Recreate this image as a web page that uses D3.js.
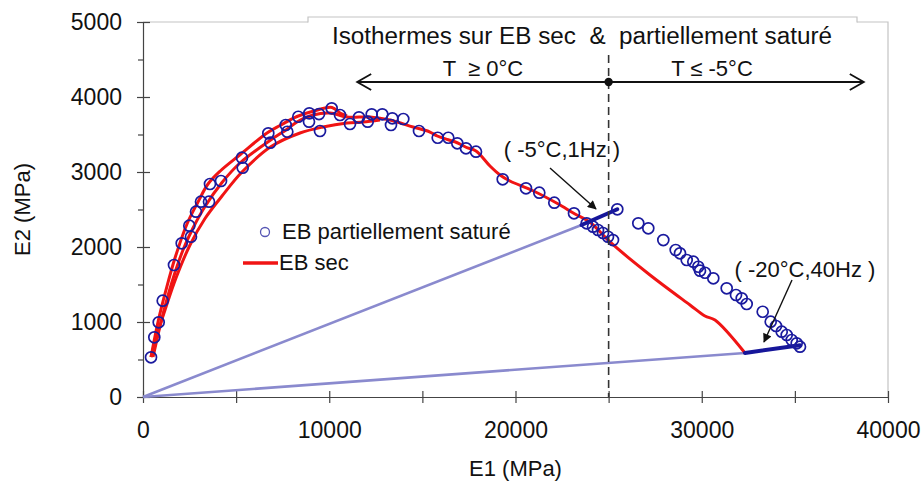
<!DOCTYPE html>
<html lang="fr">
<head>
<meta charset="UTF-8">
<title>E2 vs E1 - EB sec et partiellement saturé</title>
<script src="https://cdnjs.cloudflare.com/ajax/libs/d3/7.8.5/d3.min.js"></script>
<style>
  body { margin: 0; background: #fff; }
  svg { font-family: "Liberation Sans", Arial, sans-serif; }
  .axis path { stroke: #444; stroke-width: 1.2; }
  .axis line { stroke: #444; stroke-width: 1.2; }
  .axis text { font-size: 23px; fill: #111; }
</style>
</head>
<body>
<div id="chart"></div>
<script>
// --- données (E1, E2 en MPa) ---
const xTicks = [0, 10000, 20000, 30000, 40000];
const yTicks = [0, 1000, 2000, 3000, 4000, 5000];

// EB sec : isothermes (courbes rouges)
const secIso1 = [[430,533],[805,1000],[1235,1427],[1718,1853],[2362,2307],[2953,2600],[3490,2840],
  [4134,3010],[5208,3230],[6658,3520],[7356,3620],[8268,3740],[9128,3810],[10148,3860],[10577,3787],[10953,3747]];
const secIso2 = [[538,533],[1020,1053],[1557,1533],[2148,1960],[2685,2253],[3329,2540],[4242,2860],
  [5208,3120],[6819,3420],[7732,3570],[8268,3667],[9128,3760],[10040,3787],[10953,3733],[12188,3733],
  [13262,3693],[14497,3600],[15409,3533],[15800,3480],[16390,3430],[16870,3390],[17340,3330],[17879,3280],
  [18630,3080],[19168,2960],[19700,2880],[20940,2750],[22250,2580],[23195,2440],[24000,2330],[25074,2067],
  [27221,1627],[29369,1227],[30174,1080],[30711,1027],[32322,587]];
const secIso3 = [[430,533],[752,827],[1181,1160],[1772,1587],[2523,2027],[3329,2380],[4242,2680],
  [5315,3000],[6819,3330],[8430,3520],[9664,3600],[10953,3653],[11812,3667],[12725,3693]];

// EB partiellement saturé (cercles)
const satE1 = [430,607,843,1058,1664,2078,2486,2577,2846,3114,3544,3597,4188,5315,5353,6727,6835,7662,7748,
  8338,8929,8913,9450,9503,10131,10577,11114,11597,12064,12279,12848,13315,13385,13976,14819,15823,16392,
  16875,17342,17879,19313,20564,21278,22083,23141,23823,24161,24430,24698,24966,25235,25466,26593,27130,
  27936,28601,28832,29192,29546,29815,29906,30174,30620,31339,31839,32145,32413,33272,33702,33987,34293,
  34561,34829,35097,35275];
const satE2 = [529,796,996,1284,1760,2049,2284,2137,2471,2604,2604,2840,2880,3191,3057,3516,3391,3627,3537,
  3737,3783,3671,3773,3547,3849,3760,3640,3729,3671,3769,3769,3627,3716,3707,3547,3457,3457,
  3383,3316,3271,2903,2783,2724,2591,2449,2316,2271,2227,2187,2137,2093,2503,2316,2249,
  2093,1960,1916,1827,1804,1737,1684,1657,1583,1449,1360,1316,1240,1137,1004,947,871,
  827,760,716,671];

// segments (-5°C,1Hz) et (-20°C,40Hz)
const seg5C = [[23544,2293],[25466,2503]];
const seg20C = [[32322,587],[35275,690]];
const rayEnds = [[23544,2293],[32322,587]];

const W = 924, H = 485;
const x = d3.scaleLinear().domain([0, 40000]).range([143, 888]);
const y = d3.scaleLinear().domain([0, 5000]).range([397, 22]);

const svg = d3.select("#chart").append("svg").attr("width", W).attr("height", H);

const defs = svg.append("defs");
defs.append("marker").attr("id", "head").attr("viewBox", "0 0 10 10")
  .attr("refX", 9).attr("refY", 5).attr("markerWidth", 11).attr("markerHeight", 9)
  .attr("markerUnits", "userSpaceOnUse").attr("orient", "auto")
  .append("path").attr("d", "M0,0L10,5L0,10z").attr("fill", "#111");

// cadre
svg.append("path")
  .attr("d", `M${x(0)},${y(5000)}H${x(40000)}V${y(0)}`)
  .attr("fill", "none").attr("stroke", "#c4c4c4").attr("stroke-width", 1.2);

// boîte d'annotation
svg.append("rect").attr("x", 308).attr("y", 17).attr("width", 549).attr("height", 60)
  .attr("fill", "#fff");
svg.append("path").attr("d", "M308,22.5V17H857V22.5")
  .attr("fill", "none").attr("stroke", "#c4c4c4").attr("stroke-width", 1.2);

// axes
const xAxis = svg.append("g").attr("class", "axis")
  .attr("transform", `translate(0,${y(0)})`)
  .call(d3.axisBottom(x).tickValues(d3.range(0, 40001, 5000))
    .tickFormat(d => xTicks.includes(d) ? d : "").tickSizeOuter(0));
xAxis.selectAll(".tick line").attr("y1", -6).attr("y2", 6);
xAxis.selectAll(".tick text").attr("dy", "1.4em");

const yAxis = svg.append("g").attr("class", "axis")
  .attr("transform", `translate(${x(0)},0)`)
  .call(d3.axisLeft(y).tickValues(d3.range(0, 5001, 500))
    .tickFormat(d => yTicks.includes(d) ? d : "").tickSizeOuter(0));
yAxis.selectAll(".tick line")
  .attr("x1", d => yTicks.includes(d) ? 7 : 0)
  .attr("x2", d => yTicks.includes(d) ? -6 : -5);
yAxis.selectAll(".tick text").attr("x", -21);

svg.append("text").attr("x", (x(0) + x(40000)) / 2).attr("y", 476)
  .attr("text-anchor", "middle").style("font-size", "22px").attr("fill", "#111").text("E1 (MPa)");
svg.append("text").attr("transform", `translate(30,${(y(0) + y(5000)) / 2}) rotate(-90)`)
  .attr("text-anchor", "middle").style("font-size", "22px").attr("fill", "#111").text("E2 (MPa)");

// rayons depuis l'origine
svg.selectAll(".ray").data(rayEnds).join("line").attr("class", "ray")
  .attr("x1", x(0)).attr("y1", y(0))
  .attr("x2", d => x(d[0])).attr("y2", d => y(d[1]))
  .attr("stroke", "#8a8ace").attr("stroke-width", 2.6);

// EB sec
const line = d3.line().x(d => x(d[0])).y(d => y(d[1])).curve(d3.curveCatmullRom.alpha(0.5));
svg.selectAll(".sec").data([secIso3, secIso1, secIso2]).join("path").attr("class", "sec")
  .attr("d", line).attr("fill", "none").attr("stroke", "#f01414").attr("stroke-width", 3)
  .attr("stroke-linejoin", "round");

// segments bleu foncé
svg.selectAll(".seg").data([seg5C, seg20C]).join("path").attr("class", "seg")
  .attr("d", d3.line().x(d => x(d[0])).y(d => y(d[1])))
  .attr("stroke", "#16169a").attr("stroke-width", 4).attr("stroke-linecap", "round");

// EB partiellement saturé
svg.selectAll(".sat").data(d3.range(satE1.length)).join("circle").attr("class", "sat")
  .attr("cx", i => x(satE1[i])).attr("cy", i => y(satE2[i])).attr("r", 5.5)
  .attr("fill", "none").attr("stroke", "#1a1a9e").attr("stroke-width", 1.7);

// ligne verticale T = -5°C
svg.append("line").attr("x1", x(25000)).attr("x2", x(25000)).attr("y1", 55).attr("y2", y(0))
  .attr("stroke", "#333").attr("stroke-width", 1.6).attr("stroke-dasharray", "8,5");

// flèche horizontale
const ya = y(4200);
svg.append("line").attr("x1", x(11500)).attr("x2", x(38700)).attr("y1", ya).attr("y2", ya)
  .attr("stroke", "#111").attr("stroke-width", 1.8);
svg.append("path")
  .attr("d", `M${x(11500) + 14},${ya - 8}L${x(11500)},${ya}L${x(11500) + 14},${ya + 8}` +
             `M${x(38700) - 14},${ya - 8}L${x(38700)},${ya}L${x(38700) - 14},${ya + 8}`)
  .attr("fill", "none").attr("stroke", "#111").attr("stroke-width", 1.8);
svg.append("circle").attr("cx", x(25000)).attr("cy", ya).attr("r", 4.2).attr("fill", "#111");

// textes d'annotation
const txt = (tx, ty, s, anchor, fs) => svg.append("text").attr("x", tx).attr("y", ty)
  .attr("text-anchor", anchor || "middle").style("font-size", (fs || 22) + "px").style("white-space", "pre")
  .attr("fill", "#111").text(s);
txt(582, 44, "Isothermes sur EB sec  &  partiellement saturé", "middle", 23)
  .attr("textLength", 500).attr("lengthAdjust", "spacingAndGlyphs");
txt(483, 76, "T  \u2265 0°C");
txt(712, 76, "T \u2264 -5°C");
txt(562, 157, "( -5°C,1Hz )");
txt(805, 277, "( -20°C,40Hz )");

svg.append("line").attr("x1", 550).attr("y1", 168).attr("x2", 596).attr("y2", 209)
  .attr("stroke", "#111").attr("stroke-width", 1.4).attr("marker-end", "url(#head)");
svg.append("line").attr("x1", 792).attr("y1", 280).attr("x2", 764).attr("y2", 342)
  .attr("stroke", "#111").attr("stroke-width", 1.4).attr("marker-end", "url(#head)");

// légende
svg.append("circle").attr("cx", 265).attr("cy", 232).attr("r", 4.5)
  .attr("fill", "none").attr("stroke", "#5656b4").attr("stroke-width", 1.3);
txt(282, 239, "EB partiellement saturé", "start");
svg.append("line").attr("x1", 243).attr("x2", 278).attr("y1", 263).attr("y2", 263)
  .attr("stroke", "#f01414").attr("stroke-width", 3.5);
txt(279, 270, "EB sec", "start");
</script>
</body>
</html>
